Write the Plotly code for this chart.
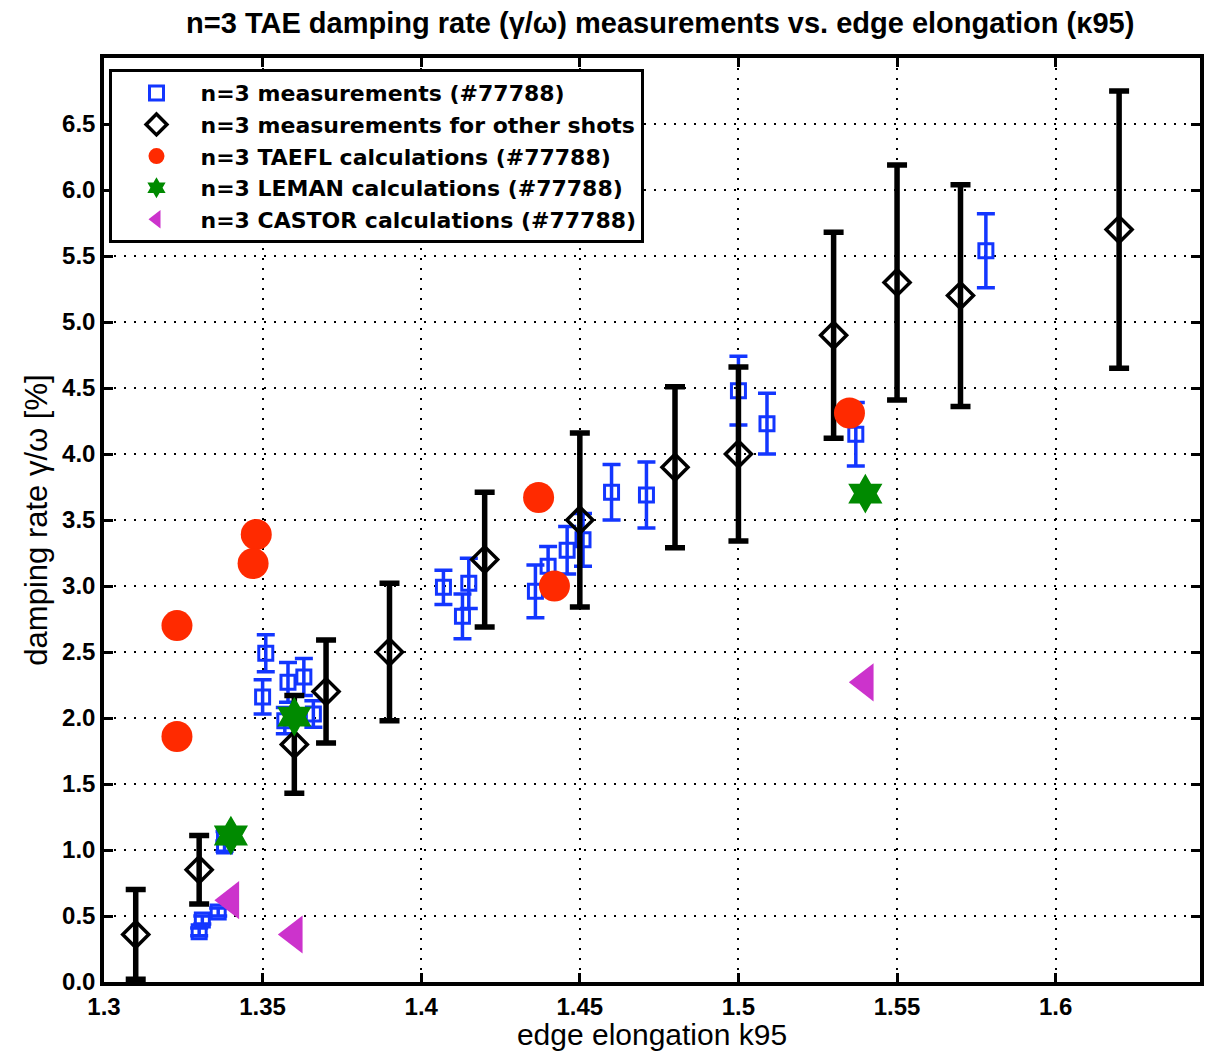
import plotly.graph_objects as go

# n=3 measurements, shot #77788: elongation, damping rate [%], error
meas_k95 = [1.330, 1.331, 1.336, 1.338, 1.338, 1.350, 1.351, 1.357, 1.358, 1.363, 1.366,
            1.407, 1.413, 1.415, 1.436, 1.440, 1.446, 1.451, 1.460, 1.471,
            1.500, 1.509, 1.537, 1.578]
meas_gamma = [0.38, 0.47, 0.53, 1.03, 1.10, 2.16, 2.49, 1.98, 2.27, 2.31, 2.03,
              2.99, 2.77, 3.02, 2.96, 3.15, 3.27, 3.35, 3.71, 3.69,
              4.48, 4.23, 4.15, 5.54]
meas_err = [0.03, 0.03, 0.03, 0.04, 0.04, 0.13, 0.14, 0.10, 0.15, 0.14, 0.10,
            0.13, 0.17, 0.19, 0.20, 0.15, 0.18, 0.20, 0.21, 0.25,
            0.26, 0.23, 0.24, 0.28]

# n=3 measurements for other shots
other_k95 = [1.31, 1.33, 1.36, 1.37, 1.39, 1.42, 1.45, 1.48, 1.50, 1.53, 1.55, 1.57, 1.62]
other_gamma = [0.36, 0.85, 1.80, 2.20, 2.50, 3.20, 3.50, 3.90, 4.00, 4.90, 5.30, 5.20, 5.70]
other_err = [0.34, 0.26, 0.37, 0.39, 0.52, 0.51, 0.66, 0.61, 0.66, 0.78, 0.89, 0.84, 1.05]

# code calculations for shot #77788
taefl_k95 = [1.323, 1.323, 1.348, 1.347, 1.437, 1.442, 1.535]
taefl_gamma = [2.70, 1.86, 3.39, 3.17, 3.67, 3.00, 4.31]

leman_k95 = [1.34, 1.36, 1.54]
leman_gamma = [1.11, 2.01, 3.70]

castor_k95 = [1.34, 1.36, 1.54]
castor_gamma = [0.62, 0.36, 2.27]

x_ticks = [1.3, 1.35, 1.4, 1.45, 1.5, 1.55, 1.6]
y_ticks = [0.0, 0.5, 1.0, 1.5, 2.0, 2.5, 3.0, 3.5, 4.0, 4.5, 5.0, 5.5, 6.0, 6.5]

BLUE = "#1336ff"
RED = "#ff2a00"
GREEN = "#008a00"
MAGENTA = "#cc33cc"
FONT = "Liberation Sans, Arial, sans-serif"
WIDE_FONT = "DejaVu Sans, Liberation Sans, sans-serif"

fig = go.Figure()

fig.add_trace(go.Scatter(
    x=meas_k95, y=meas_gamma, mode="markers",
    name="n=3 measurements (#77788)",
    marker=dict(symbol="square-open", size=14, color=BLUE, line=dict(width=3, color=BLUE)),
    error_y=dict(type="data", array=meas_err, color=BLUE, thickness=3.5, width=9),
))

fig.add_trace(go.Scatter(
    x=other_k95, y=other_gamma, mode="markers",
    name="n=3 measurements for other shots",
    marker=dict(symbol="diamond-open", size=20, color="black", line=dict(width=3.5, color="black")),
    error_y=dict(type="data", array=other_err, color="black", thickness=5.5, width=10),
))

fig.add_trace(go.Scatter(
    x=taefl_k95, y=taefl_gamma, mode="markers",
    name="n=3 TAEFL calculations (#77788)",
    marker=dict(symbol="circle", size=31, color=RED, line=dict(width=0)),
))

fig.add_trace(go.Scatter(
    x=leman_k95, y=leman_gamma, mode="markers",
    name="n=3 LEMAN calculations (#77788)",
    marker=dict(symbol="hexagram", size=30, color=GREEN, line=dict(width=0)),
))

fig.add_trace(go.Scatter(
    x=castor_k95, y=castor_gamma, mode="markers",
    name="n=3 CASTOR calculations (#77788)",
    marker=dict(symbol="triangle-left", size=33, color=MAGENTA, line=dict(width=0)),
))

axis_common = dict(
    showline=True, linewidth=3.5, linecolor="black", mirror="ticks",
    ticks="inside", ticklen=9, tickwidth=3, tickcolor="black",
    showgrid=True, gridcolor="black", gridwidth=2, griddash="2px,8px",
    zeroline=False,
)

fig.update_xaxes(
    range=[1.3, 1.6455], tickvals=x_ticks, ticktext=[f"{v:g}" for v in x_ticks],
    tickfont=dict(family=FONT, size=24, color="black", weight="bold"),
    title=dict(text="edge elongation k95", font=dict(family=FONT, size=30, color="black"), standoff=4),
    **axis_common,
)
fig.update_yaxes(
    range=[0, 7], tickvals=y_ticks, ticktext=[f"{v:.1f}" for v in y_ticks],
    tickfont=dict(family=FONT, size=24, color="black", weight="bold"),
    title=dict(text="damping rate γ/ω [%]", font=dict(family=FONT, size=31, color="black"), standoff=6),
    **axis_common,
)

fig.update_layout(
    width=1207, height=1051,
    margin=dict(l=104, r=3, t=58, b=69),
    paper_bgcolor="white", plot_bgcolor="white",
    title=dict(text="n=3 TAE damping rate (γ/ω) measurements vs. edge elongation (κ95)",
               x=0.547, xanchor="center", y=0.978, yanchor="middle",
               font=dict(family=FONT, size=29, color="black", weight="bold")),
    legend=dict(x=0.005, y=0.988, xanchor="left", yanchor="top",
                bgcolor="white", bordercolor="black", borderwidth=3,
                font=dict(family=WIDE_FONT, size=22, color="black", weight="bold"),
                itemsizing="trace", itemwidth=78, tracegroupgap=0),
    showlegend=True,
)

fig.write_html("out.html")
